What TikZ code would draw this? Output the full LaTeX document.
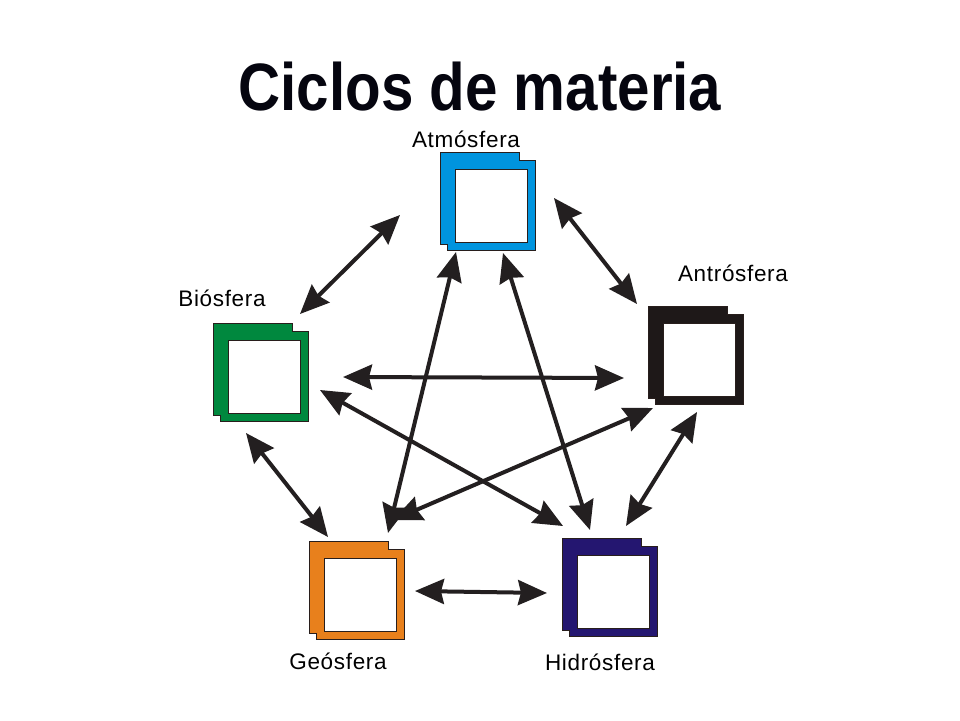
\documentclass[tikz,border=0pt]{standalone}
\usepackage{fontspec}
\setmainfont{Liberation Sans}
\newfontfamily\lblfont[LetterSpace=3]{Liberation Sans}
\usetikzlibrary{arrows.meta}
\definecolor{cAtm}{RGB}{0,148,222}
\definecolor{cBio}{RGB}{0,136,62}
\definecolor{cGeo}{RGB}{232,128,28}
\definecolor{cHid}{RGB}{36,22,112}
\definecolor{cAnt}{RGB}{30,24,24}
\definecolor{arrowc}{RGB}{35,31,32}
\definecolor{edgec}{RGB}{40,30,28}
\definecolor{titlec}{RGB}{5,5,15}
\tikzset{
  link/.style={draw=arrowc, line width=4pt,
    {Stealth[length=29pt,width=25pt,inset=3pt]}-{Stealth[length=29pt,width=25pt,inset=3pt]}},
  lbl/.style={font=\lblfont\fontsize{22.5}{24}\selectfont, anchor=base, inner sep=0pt},
  ttl/.style={font=\bfseries\fontsize{67}{72}\selectfont, text=titlec, anchor=base, inner sep=0pt, xscale=0.87},
  outline/.style={draw=edgec, line width=0.9pt}
}
\newcommand\folderbox[3]{%
  \fill[#3, outline] (#1,#2) -- ++(79,0) -- ++(0,8) -- ++(16,0) -- ++(0,90)
    -- ++(-88,0) -- ++(0,-6) -- ++(-7,0) -- cycle;
  \filldraw[fill=white, outline] (#1+15,#2+17) rectangle (#1+87,#2+90);
}
\begin{document}
\begin{tikzpicture}[x=1pt,y=-1pt]
\useasboundingbox (0,0) rectangle (960,720);
\fill[white] (0,0) rectangle (960,720);

\node[ttl] (title) at (480,110) {Ciclos de materia};

% folders
\folderbox{440}{152}{cAtm}
\folderbox{648}{306}{cAnt}
\folderbox{213}{323}{cBio}
\folderbox{309}{541}{cGeo}
\folderbox{562}{538}{cHid}

% labels
\node[lbl] (latm) at (466,147) {Atmósfera};
\node[lbl] (lant) at (733,281) {Antrósfera};
\node[lbl] (lbio) at (222,306) {Biósfera};
\node[lbl] (lgeo) at (338,669) {Geósfera};
\node[lbl] (lhid) at (600,670) {Hidrósfera};

% arrow endpoints
\coordinate (ba1) at (300,314); \coordinate (ba2) at (400,215);
\coordinate (aa1) at (554,198); \coordinate (aa2) at (637,304);
\coordinate (bn1) at (343,377); \coordinate (bn2) at (624,378);
\coordinate (bh1) at (320,390); \coordinate (bh2) at (563,526);
\coordinate (ng1) at (653,408); \coordinate (ng2) at (393,520);
\coordinate (ag1) at (456,252); \coordinate (ag2) at (388,533);
\coordinate (ah1) at (503,253); \coordinate (ah2) at (590,530);
\coordinate (nh1) at (697,412); \coordinate (nh2) at (626,526);
\coordinate (bg1) at (246,433); \coordinate (bg2) at (328,537);
\coordinate (gh1) at (415,591); \coordinate (gh2) at (547,593);

\draw[link] (ba1) -- (ba2);
\draw[link] (aa1) -- (aa2);
\draw[link] (bn1) -- (bn2);
\draw[link] (bh1) -- (bh2);
\draw[link] (ng1) -- (ng2);
\draw[link] (ag1) -- (ag2);
\draw[link] (ah1) -- (ah2);
\draw[link] (nh1) -- (nh2);
\draw[link] (bg1) -- (bg2);
\draw[link] (gh1) -- (gh2);
\end{tikzpicture}
\end{document}
